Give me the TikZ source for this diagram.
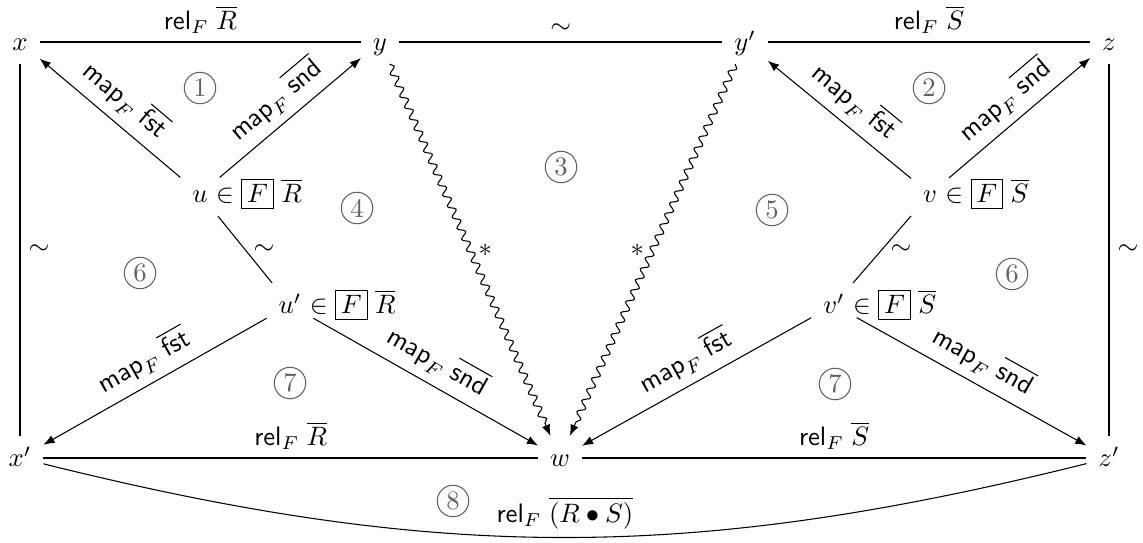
\documentclass[tikz,border=0pt]{standalone}
\usetikzlibrary{arrows.meta,decorations.pathmorphing}
\newcommand{\bx}[1]{{\setlength{\fboxsep}{1.8pt}\fbox{$#1$}}}
\newcommand{\relF}{\mathsf{rel}_F\;}
\newcommand{\mapF}{\mathsf{map}_F\;}
\begin{document}
\begin{tikzpicture}[x=0.375pt,y=0.375pt,
  obj/.style={inner xsep=1ex, inner ysep=0.85ex, text height=1.8ex, text depth=0.25ex},
  rest/.style={anchor=base west, inner sep=0pt},
  arr/.style={-{Latex[length=4.2pt,width=3.2pt]}},
  squig/.style={-{Latex[length=4.2pt,width=3.2pt]}, decorate,
     decoration={snake, amplitude=1.3pt, segment length=4.5pt, post length=4pt}},
  lab/.style={inner sep=3pt},
  circ/.style={circle, draw=black!62, text=black!62, inner sep=0pt, minimum size=11.8pt}]
\useasboundingbox (0,0) rectangle (1143,-542);
% objects
\node[obj] (x) at (20,-42) {$x$};
\node[obj] (y) at (380,-42) {$y$};
\node[obj] (y2) at (745,-42) {$y'$};
\node[obj] (z) at (1109,-42) {$z$};
\node[obj] (u) at (200,-194) {$u$};
\node[rest] (ur) at ([xshift=-1ex]u.base east) {$\mathord{}\in\bx{F}\;\overline{R}$};
\node[obj] (v) at (930,-194) {$v$};
\node[rest] (vr) at ([xshift=-1ex]v.base east) {$\mathord{}\in\bx{F}\;\overline{S}$};
\node[obj] (u2) at (290,-305) {$u'$};
\node[rest] (u2r) at ([xshift=-1ex]u2.base east) {$\mathord{}\in\bx{F}\;\overline{R}$};
\node[obj] (v2) at (834,-305) {$v'$};
\node[rest] (v2r) at ([xshift=-1ex]v2.base east) {$\mathord{}\in\bx{F}\;\overline{S}$};
\node[obj] (x2) at (20,-458) {$x'$};
\node[obj] (w) at (560,-458) {$w$};
\node[obj] (z2) at (1109,-458) {$z'$};
% circled region numbers
\node[circ] (c1) at (200,-88) {1};
\node[circ] (c2) at (929,-88) {2};
\node[circ] (c3) at (561,-167) {3};
\node[circ] (c4) at (357,-208) {4};
\node[circ] (c5) at (772,-210) {5};
\node[circ] (c6a) at (140,-273) {6};
\node[circ] (c6b) at (1012,-274) {6};
\node[circ] (c7a) at (290,-383) {7};
\node[circ] (c7b) at (835,-384) {7};
\node[circ] (c8) at (453,-501) {8};
% top row
\draw (x) -- node[lab,above] {$\relF\overline{R}$} (y);
\draw (y) -- node[lab,above] {$\sim$} (y2);
\draw (y2) -- node[lab,above] {$\relF\overline{S}$} (z);
% verticals
\draw (x) -- node[lab,right] {$\sim$} (x2);
\draw (z) -- node[lab,right] {$\sim$} (z2);
% left spans
\draw[arr] (u) -- node[lab,above,sloped] {$\mapF\overline{\mathsf{fst}}$} (x);
\draw[arr] (u) -- node[lab,above,sloped] {$\mapF\overline{\mathsf{snd}}$} (y);
\draw (u) -- node[lab,right] {$\sim$} (u2);
\draw[arr] (u2) -- node[lab,above,sloped] {$\mapF\overline{\mathsf{fst}}$} (x2);
\draw[arr] (u2) -- node[lab,above,sloped] {$\mapF\overline{\mathsf{snd}}$} (w);
% right spans
\draw[arr] (v) -- node[lab,above,sloped] {$\mapF\overline{\mathsf{fst}}$} (y2);
\draw[arr] (v) -- node[lab,above,sloped] {$\mapF\overline{\mathsf{snd}}$} (z);
\draw (v) -- node[lab,right] {$\sim$} (v2);
\draw[arr] (v2) -- node[lab,above,sloped] {$\mapF\overline{\mathsf{fst}}$} (w);
\draw[arr] (v2) -- node[lab,above,sloped] {$\mapF\overline{\mathsf{snd}}$} (z2);
% squiggly
\draw[squig] (y) -- node[lab,right] {$*$} (w);
\draw[squig] (y2) -- node[lab,left] {$*$} (w);
% bottom row
\draw (x2) -- node[lab,above] {$\relF\overline{R}$} (w);
\draw (w) -- node[lab,above] {$\relF\overline{S}$} (z2);
\draw (x2) to[bend right=14] node[lab,above] {$\relF\overline{(R\bullet S)}$} (z2);
\end{tikzpicture}
\end{document}
